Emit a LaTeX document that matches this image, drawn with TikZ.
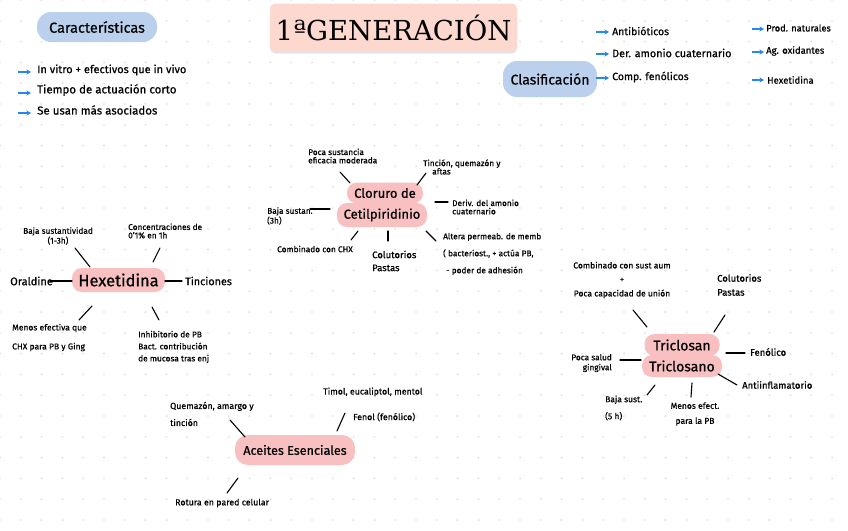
\documentclass[tikz,border=0pt]{standalone}
\usepackage{fontspec}
\setmainfont[FakeBold=0.6]{Fira Sans}
\newfontfamily\titlefont{DejaVu Serif}
\usetikzlibrary{arrows.meta}
\definecolor{pinkhl}{RGB}{248,192,192}
\definecolor{bluehl}{RGB}{186,208,236}
\definecolor{titlebg}{RGB}{252,216,206}
\definecolor{arrowblue}{RGB}{38,135,240}
\definecolor{dotc}{RGB}{218,218,218}
\newcommand\fs[1]{\fontsize{#1}{#1}\selectfont}
\newcommand\fsl[2]{\fontsize{#1}{#2}\selectfont}
\newcommand\linkseg[3]{\coordinate (#1s) at (#2); \coordinate (#1e) at (#3); \draw[conn] (#1s) -- (#1e);}
\newcommand\barrow[3]{\coordinate (#1s) at (#2); \coordinate (#1e) at (#3); \draw[barr] (#1s) -- (#1e);}
\tikzset{
  lbl/.style={font=\fs{8.3}, align=left, inner sep=0pt},
  conn/.style={line width=1.1pt, black, line cap=round},
  barr/.style={line width=1.3pt, arrowblue, -{Stealth[length=4.5pt,width=5pt]}},
  hlp/.style={fill=pinkhl, rounded corners=10pt, inner sep=0pt},
  hlb/.style={fill=bluehl, rounded corners=14pt, inner sep=0pt},
}
\begin{document}
\begin{tikzpicture}[x=1pt,y=-1pt]
\useasboundingbox (0,0) rectangle (848,530);
\fill[white] (0,0) rectangle (848,530);
\foreach \i in {0,...,40} \foreach \j in {0,...,25} \fill[dotc] (\i*20.8,\j*20.8) circle (0.9);

% Title
\fill[black!10, rounded corners=5pt] (270,5) rectangle (517,53.5);
\node[fill=titlebg, rounded corners=5pt, minimum width=247pt, minimum height=48pt, inner sep=0pt, font=\titlefont\fs{27.5}] (title) at (393.5,27.5) {1ªGENERACIÓN};

% Caracteristicas
\node[hlb, minimum width=120pt, minimum height=30pt, font=\fs{14.5}] (car) at (97,27) {Características};
\node[lbl, anchor=west, font=\fs{11}] (c1) at (37,70) {In vitro + efectivos que in vivo};
\node[lbl, anchor=west, font=\fs{11.5}] (c2) at (37,90) {Tiempo de actuación corto};
\node[lbl, anchor=west, font=\fs{11.5}] (c3) at (37,110) {Se usan más asociados};
\barrow{ca1}{18,72}{31,72}
\barrow{ca2}{18,93}{31,93}
\barrow{ca3}{18,113}{31,113}

% Clasificacion
\node[hlb, minimum width=94pt, minimum height=36pt, font=\fs{14}] (clas) at (550,79) {Clasificación};
\node[lbl, anchor=west, font=\fs{10.5}] (k1) at (612,31) {Antibióticos};
\node[lbl, anchor=west, font=\fs{10.8}] (k2) at (612,53) {Der. amonio cuaternario};
\node[lbl, anchor=west, font=\fs{10.5}] (k3) at (612,77) {Comp. fenólicos};
\node[lbl, anchor=west, font=\fs{9.3}] (k4) at (766,28) {Prod. naturales};
\node[lbl, anchor=west, font=\fs{9.5}] (k5) at (766,51) {Ag. oxidantes};
\node[lbl, anchor=west, font=\fs{9.5}] (k6) at (767,80) {Hexetidina};
\barrow{ka1}{596,32}{609,32}
\barrow{ka2}{596,54}{609,54}
\barrow{ka3}{596,78}{609,78}
\barrow{ka4}{752,29}{764,29}
\barrow{ka5}{752,52}{764,52}
\barrow{ka6}{752,80}{764,80}

% Cloruro de cetilpiridinio
\node[hlp, minimum width=76pt, minimum height=21pt, font=\fs{13}] (cl1) at (385,193) {Cloruro de};
\node[hlp, minimum width=90pt, minimum height=24pt, font=\fs{13}] (cl2) at (382,215) {Cetilpiridinio};
\node[lbl, anchor=west] (cla) at (308,156) {Poca sustancia\\eficacia moderada};
\node[lbl, anchor=west] (clb) at (423,167) {Tinción, quemazón y\\\hspace{9pt}aftas};
\node[lbl, anchor=west] (clc) at (452,207) {Deriv. del amonio\\cuaternario};
\node[lbl, anchor=west] (cld) at (267,216) {Baja sustan.\\(3h)};
\node[lbl, anchor=west] (cle) at (277,249) {Combinado con CHX};
\node[lbl, anchor=west, font=\fsl{9.5}{13}] (clf) at (372,261) {Colutorios\\Pastas};
\node[lbl, anchor=west, font=\fsl{8.3}{17}] (clg) at (443,254) {Altera permeab. de memb\\{(} bacteriost., + actúa PB,\\\hspace{3pt}- poder de adhesión};
\linkseg{l1}{340,172}{350,183}
\linkseg{l2}{417,185}{426,173}
\linkseg{l3}{435,202}{448,202}
\linkseg{l4}{310,209}{330,209}
\linkseg{l5}{358,231}{351,240}
\linkseg{l6}{388,231}{388,241}
\linkseg{l7}{426,231}{436,241}

% Hexetidina
\node[hlp, minimum width=93pt, minimum height=24pt, font=\fs{16.4}] (hex) at (118.5,280) {Hexetidina};
\node[lbl, anchor=west, font=\fs{11}] (hora) at (10,281) {Oraldine};
\node[lbl, anchor=west, font=\fs{10.8}] (htin) at (185,281) {Tinciones};
\node[lbl, align=center] (hbaj) at (58,236) {Baja sustantividad\\(1-3h)};
\node[lbl, anchor=west] (hcon) at (128,231) {Concentraciones de\\0'1\% en 1h};
\node[lbl, anchor=west, font=\fsl{8.5}{19}] (hmen) at (12,337.5) {Menos efectiva que\\CHX para PB y Ging};
\node[lbl, anchor=west, font=\fsl{8.3}{12}] (hinh) at (138,347) {Inhibitorio de PB\\Bact. contribución\\de mucosa tras enj};
\linkseg{h1}{50,281}{72,281}
\linkseg{h2}{165,281}{182,281}
\linkseg{h3}{75,248}{90,267}
\linkseg{h4}{160,248}{153,262}
\linkseg{h5}{92,306}{79,320}
\linkseg{h6}{152,307}{159,320}

% Triclosan
\node[hlp, minimum width=75pt, minimum height=22pt, font=\fs{14}] (tr1) at (682,345) {Triclosan};
\node[hlp, minimum width=80pt, minimum height=22pt, font=\fs{14}] (tr2) at (682,366) {Triclosano};
\node[lbl, align=center, font=\fsl{8.5}{14}] (ta) at (622,280) {Combinado con sust aum\\+\\Poca capacidad de unión};
\node[lbl, anchor=west, font=\fsl{9.5}{14}] (tb) at (717,285) {Colutorios\\Pastas};
\node[lbl, anchor=west, font=\fs{9.5}] (tc) at (750,352) {Fenólico};
\node[lbl, anchor=west, font=\fs{9.5}] (td) at (742,385) {Antiinflamatorio};
\node[lbl, align=center, font=\fsl{8.5}{15}] (te) at (695,414) {Menos efect.\\para la PB};
\node[lbl, anchor=west, font=\fsl{8.5}{17}] (tf) at (605,408) {Baja sust.\\(5 h)};
\node[lbl, anchor=east, align=right, font=\fsl{8.3}{10}] (tg) at (612,363) {Poca salud\\gingival};
\linkseg{t1}{633,310}{647,327}
\linkseg{t2}{725,315}{714,332}
\linkseg{t3}{726,353}{745,353}
\linkseg{t4}{718,374}{737,385}
\linkseg{t5}{692,383}{691,397}
\linkseg{t6}{655,385}{647,395}
\linkseg{t7}{620,360}{641,360}

% Aceites esenciales
\node[hlp, minimum width=120pt, minimum height=30pt, rounded corners=13pt, font=\fs{12.6}] (ae) at (295,450) {Aceites Esenciales};
\node[lbl, anchor=west, font=\fsl{8.8}{17}] (aea) at (170,414) {Quemazón, amargo y\\tinción};
\node[lbl, anchor=west, font=\fs{8.8}] (aeb) at (323,392) {Timol, eucaliptol, mentol};
\node[lbl, anchor=west, font=\fs{8.8}] (aec) at (353,417) {Fenol (fenólico)};
\node[lbl, anchor=west, font=\fs{8.8}] (aed) at (175,503) {Rotura en pared celular};
\linkseg{a1}{230,420}{245,437}
\linkseg{a2}{345,413}{337,431}
\linkseg{a3}{238,478}{227,493}
\end{tikzpicture}
\end{document}
